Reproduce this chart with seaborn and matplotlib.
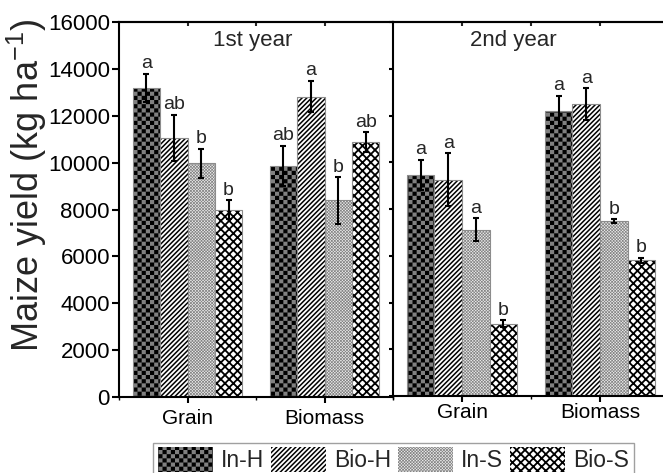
import warnings
warnings.filterwarnings('ignore')
import numpy as np
import pandas as pd
import matplotlib
matplotlib.use('Agg')
import matplotlib.pyplot as plt
import matplotlib.hatch as mhatch
import matplotlib.patches as mpatches
import matplotlib.colors as mcolors
from matplotlib.path import Path
import seaborn as sns

# ---------------- data ----------------
treatments = ['In-H', 'Bio-H', 'In-S', 'Bio-S']
parts = ['Grain', 'Biomass']
year_titles = ['1st year', '2nd year']

y1_grain = [13200, 11050, 9980, 8000]
y1_grain_err = [600, 1000, 620, 400]
y1_grain_let = ['a', 'ab', 'b', 'b']
y1_biomass = [9860, 12820, 8390, 10870]
y1_biomass_err = [870, 670, 1000, 430]
y1_biomass_let = ['ab', 'a', 'b', 'ab']

y2_grain = [9460, 9260, 7110, 3090]
y2_grain_err = [650, 1120, 500, 150]
y2_grain_let = ['a', 'a', 'a', 'b']
y2_biomass = [12200, 12500, 7470, 5800]
y2_biomass_err = [640, 680, 90, 115]
y2_biomass_let = ['a', 'a', 'b', 'b']

ylabel = 'Maize yield (kg ha$^{-1}$)'


# ---------------- custom checkerboard hatch ----------------
class CheckerHatch(mhatch.HatchPatternBase):
    def __init__(self, hatch, density):
        n = hatch.count('c') * int(density)
        if n % 2:
            n += 1
        self.n = n
        self.num_vertices = (n * n // 2) * 5 if n else 0

    def set_vertices_and_codes(self, vertices, codes):
        n = self.n
        s = 1.0 / n
        k = 0
        for i in range(n):
            for j in range(n):
                if (i + j) % 2 == 0:
                    x0, y0 = i * s, j * s
                    vertices[k:k + 5] = [(x0, y0), (x0 + s, y0), (x0 + s, y0 + s),
                                         (x0, y0 + s), (x0, y0)]
                    codes[k:k + 5] = [Path.MOVETO, Path.LINETO, Path.LINETO,
                                      Path.LINETO, Path.CLOSEPOLY]
                    k += 5


mhatch._hatch_types.append(CheckerHatch)

# ---------------- styling ----------------
sns.set_style('ticks')
plt.rcParams['font.family'] = ['Liberation Sans', 'DejaVu Sans']
plt.rcParams['mathtext.default'] = 'regular'

faces = {'In-H': '#808080', 'Bio-H': '#ffffff', 'In-S': '#eeeeee', 'Bio-S': '#ffffff'}
hatches = ['cccc', '///////', 'x' * 11, 'xxxx']
hatch_cols = ['#000000', '#000000', '#858585', '#000000']
hatch_lws = [0.0, 1.1, 0.5, 1.3]
edge_col = '#8c8c8c'


def style_patch(p, h):
    p.set_hatch(hatches[h])
    p.set_edgecolor(edge_col)
    p.set_linewidth(0.8)
    if hasattr(p, 'set_hatchcolor'):
        p.set_hatchcolor(hatch_cols[h])
    else:
        p._hatch_color = mcolors.to_rgba(hatch_cols[h])
    if hasattr(p, 'set_hatch_linewidth'):
        p.set_hatch_linewidth(hatch_lws[h])
    else:
        p._hatch_linewidth = hatch_lws[h]


# ---------------- data frame ----------------
rows = []
blocks = [
    (year_titles[0], parts[0], y1_grain, y1_grain_err, y1_grain_let),
    (year_titles[0], parts[1], y1_biomass, y1_biomass_err, y1_biomass_let),
    (year_titles[1], parts[0], y2_grain, y2_grain_err, y2_grain_let),
    (year_titles[1], parts[1], y2_biomass, y2_biomass_err, y2_biomass_let),
]
for yr, part, vals, errs, lets in blocks:
    for t, v, e, l in zip(treatments, vals, errs, lets):
        rows.append(dict(year=yr, part=part, treatment=t, value=v, err=e, letter=l))
df = pd.DataFrame(rows)

# ---------------- figure ----------------
W, H = 663, 473
fig = plt.figure(figsize=(W / 100, H / 100), dpi=100)


def px_axes(x0, y0, x1, y1):
    return fig.add_axes([x0 / W, 1 - y1 / H, (x1 - x0) / W, (y1 - y0) / H])


ax1 = px_axes(119, 22, 393, 397)
ax2 = px_axes(393, 22, 669, 396)
title_x = [0.487, 0.435]
xpads = [5, 1]

for i, (ax, yr) in enumerate(zip([ax1, ax2], year_titles)):
    d = df[df['year'] == yr]
    sns.barplot(data=d, x='part', y='value', hue='treatment', order=parts,
                hue_order=treatments, palette=faces, saturation=1, width=0.8,
                gap=0, errorbar=None, legend=False, ax=ax, zorder=2)
    bar_conts = list(ax.containers)
    for h, cont in enumerate(bar_conts):
        t = treatments[h]
        sub = d[d['treatment'] == t].set_index('part').loc[parts]
        xs, ys = [], []
        for p in cont:
            style_patch(p, h)
            xs.append(p.get_x() + p.get_width() / 2)
            ys.append(p.get_height())
        ax.errorbar(xs, ys, yerr=sub['err'].values, fmt='none', ecolor='black',
                    elinewidth=1.5, capsize=2.5, capthick=1.5, zorder=3)
        for x, y, e, l in zip(xs, ys, sub['err'].values, sub['letter'].values):
            ax.annotate(l, (x, y + e), xytext=(0, 1), textcoords='offset points',
                        ha='center', va='bottom', fontsize=14)

    ax.set_xlim(-0.5, 1.5)
    ax.set_ylim(0, 16000)
    ax.set_yticks(np.arange(0, 16001, 2000))
    ax.set_xticks([-0.5, 0.5, 1.5], minor=True)
    ax.set_xlabel('')
    ax.set_ylabel('')
    ax.tick_params(axis='x', which='major', direction='out', length=4, width=1.5,
                   labelsize=15, pad=xpads[i], colors='black')
    ax.tick_params(axis='x', which='minor', direction='out', length=2.5,
                   width=1.0, colors='black')
    ax.tick_params(axis='y', direction='out', length=5, width=1.5,
                   labelsize=16, pad=1.5, colors='black')
    for s in ax.spines.values():
        s.set_visible(True)
        s.set_linewidth(1.5)
        s.set_color('black')
    ax.text(title_x[i], 0.936, yr, transform=ax.transAxes, ha='center',
            va='baseline', fontsize=16)
    sec = ax.secondary_xaxis('top')
    sec.set_xticks([0, 0.5, 1])
    sec.tick_params(direction='in', length=3, width=1.5, labeltop=False)
    sec.spines['top'].set_linewidth(1.5)

ax1.spines['right'].set_visible(False)
ax2.tick_params(axis='y', labelleft=False, length=3)

fig.text(27 / W, 1 - 185 / H, ylabel, rotation=90, ha='center', va='center',
         fontsize=26)

# ---------------- legend ----------------
handles = []
for h, t in enumerate(treatments):
    handles.append(mpatches.Patch(facecolor=faces[t], label=t))
leg = fig.legend(handles=handles, labels=treatments, loc='upper center',
                 bbox_to_anchor=(393.5 / W, 1 - 442.7 / H), ncol=4, fontsize=16.5,
                 frameon=True, fancybox=False, edgecolor='#a0a0a0', framealpha=1,
                 handlelength=2.4, handleheight=1.3, handletextpad=0.35,
                 columnspacing=0.3, borderpad=0.2, borderaxespad=0)
leg.get_frame().set_linewidth(1)
for h, p in enumerate(leg.legend_handles):
    style_patch(p, h)
    p.set_linewidth(0)

fig.savefig('out.png', dpi=100)
